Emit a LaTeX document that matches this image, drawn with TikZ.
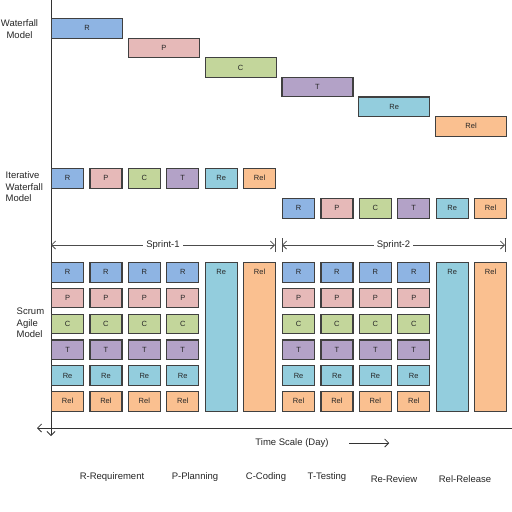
\documentclass[tikz,border=0pt]{standalone}
\usepackage{fontspec}
\setmainfont{Liberation Sans}
\usetikzlibrary{arrows.meta}
\definecolor{reqblue}{HTML}{8EB4E3}
\definecolor{planpink}{HTML}{E6B9B8}
\definecolor{codegreen}{HTML}{C3D69B}
\definecolor{testpurple}{HTML}{B3A2C7}
\definecolor{revcyan}{HTML}{93CDDD}
\definecolor{relorange}{HTML}{FAC090}

\begin{document}
\begin{tikzpicture}[x=1pt, y=-1pt, >={Straight Barb[length=4pt, width=8pt]}, line width=0.8pt,
  phase/.style={draw=black!75, line width=1.1pt, inner sep=0pt, anchor=north west, minimum height=19.5pt,
    font=\fontsize{7.5}{8}\selectfont, text=black!85},
  wide/.style={phase, minimum width=71pt},
  small/.style={phase, minimum width=32pt},
  tall/.style={phase, minimum width=32pt, text height=12pt, text depth=137pt},
  lbl/.style={font=\fontsize{9.5}{11.5}\selectfont, text=black!85, align=left}]
  \useasboundingbox (0,0) rectangle (512,512);

  % axes
  \draw[->, black!80] (51,0) -- (51,436);
  \draw[->, black!80] (512,428) -- (37,428);

  % waterfall and iterative
  \foreach \n/\c [count=\i from 0] in {R/reqblue, P/planpink, C/codegreen, T/testpurple, Re/revcyan, Rel/relorange} {
    \node[wide, fill=\c] (wf-\n) at ({51+76.8*\i}, {18+19.6*\i}) {\n};
    \node[small, fill=\c] (it1-\n) at ({51+38.4*\i}, 168) {\n};
    \node[small, fill=\c] (it2-\n) at ({282+38.4*\i}, 198) {\n};
  }

  % scrum sprints
  \foreach \s/\xo in {1/51, 2/282} {
    \foreach \n/\c [count=\k from 0] in {R/reqblue, P/planpink, C/codegreen, T/testpurple, Re/revcyan, Rel/relorange} {
      \foreach \j in {0,...,3}
        \node[small, fill=\c] (s\s-\j-\n) at ({\xo+38.4*\j}, {262+25.8*\k}) {\n};
    }
    \node[tall, fill=revcyan] (s\s-Re) at ({\xo+153.6}, 262) {Re};
    \node[tall, fill=relorange] (s\s-Rel) at ({\xo+192}, 262) {Rel};
  }

  % sprint spans
  \coordinate (sp1-a) at (51,245);
  \coordinate (sp1-b) at (275,245);
  \coordinate (sp2-a) at (282,245);
  \coordinate (sp2-b) at (505,245);
  \draw[<->, black!70] (sp1-a) -- node[fill=white, lbl, inner sep=3pt] (sp1) {Sprint-1} (sp1-b);
  \draw[<->, black!70] (sp2-a) -- node[fill=white, lbl, inner sep=3pt] (sp2) {Sprint-2} (sp2-b);
  \foreach \p in {sp1-b, sp2-a, sp2-b}
    \draw[black!70] ([yshift=-7pt]\p) -- ([yshift=7pt]\p);

  % model names
  \node[lbl, align=center] (wf-lbl) at (19.5,29) {Waterfall\\Model};
  \node[lbl, anchor=west] (it-lbl) at (2,187) {Iterative\\Waterfall\\Model};
  \node[lbl, anchor=west] (sc-lbl) at (13,323) {Scrum\\Agile\\Model};

  % time scale
  \node[lbl] (tscale) at (292,443) {Time Scale (Day)};
  \draw[->, black!80] ([xshift=17pt]tscale.east) -- ([xshift=57pt]tscale.east);

  % legend
  \foreach \t/\x/\y [count=\i] in {R-Requirement/112/477, P-Planning/195/477, C-Coding/266/477,
      T-Testing/327/477, Re-Review/394/479, Rel-Release/465/479}
    \node[lbl] (key-\i) at (\x,\y) {\t};
\end{tikzpicture}
\end{document}
